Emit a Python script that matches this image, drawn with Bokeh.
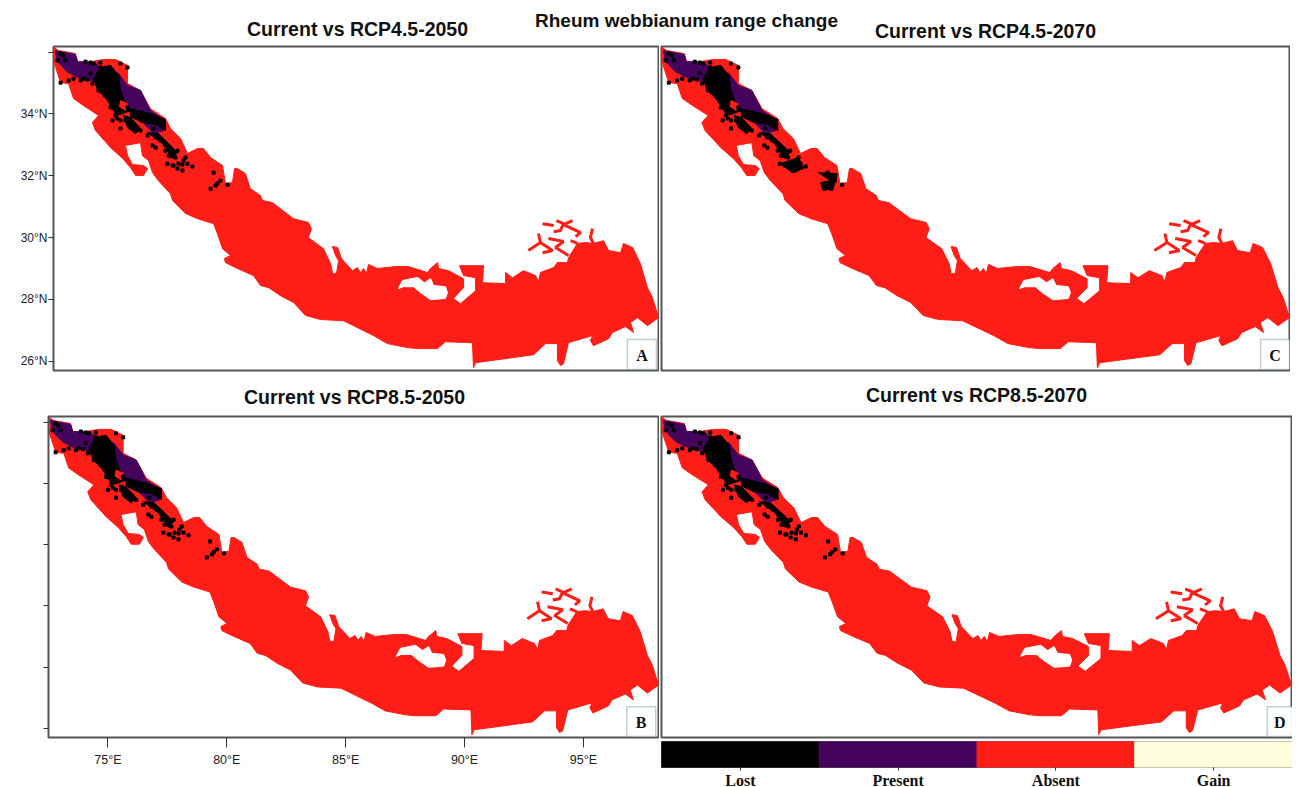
from bokeh.plotting import figure
from bokeh.layouts import column, row
from bokeh.models import Range1d, FactorRange, Label, BoxAnnotation, FixedTicker
from bokeh.embed import file_html
from bokeh.resources import INLINE

# ---------- data (lon, lat) ----------
main_title = "Rheum webbianum range change"
panel_titles = ["Current vs RCP4.5-2050", "Current vs RCP4.5-2070", "Current vs RCP8.5-2050", "Current vs RCP8.5-2070"]
lat_ticks = [34, 32, 30, 28, 26]
lat_labels = ["34°N", "32°N", "30°N", "28°N", "26°N"]
lat_unlabelled = [36]
lon_ticks = [75, 80, 85, 90, 95]
lon_labels = ["75°E", "80°E", "85°E", "90°E", "95°E"]
classes = ["Lost", "Present", "Absent", "Gain"]
class_colors = ["#000000", "#44045E", "#FE1D17", "#FFFDDB"]

region = [
    (72.54,36.15),(72.71,36.05),(73.43,35.95),(73.52,35.69),(74.07,35.69),(74.62,35.76),(75.13,35.76),
    (75.64,35.57),(75.64,34.98),(76.19,34.76),(76.61,34.17),(77.25,33.85),(77.46,33.53),(77.89,33.20),
    (78.18,32.72),(78.61,32.88),(78.86,32.88),(79.16,32.59),(79.67,32.33),(79.79,31.75),(80.09,31.78),
    (80.18,32.23),(80.30,32.23),(80.64,32.07),(80.85,31.58),(81.28,31.36),(81.36,31.20),(81.79,31.13),
    (82.68,30.61),(83.31,30.49),(83.44,30.29),(83.31,30.00),(83.95,29.64),(84.25,29.16),(84.34,28.83),
    (84.50,28.83),(84.59,29.25),(84.46,29.42),(84.33,29.71),(84.55,29.68),(84.71,29.32),(85.18,28.93),
    (85.39,29.03),(85.52,28.87),(85.65,29.00),(85.77,28.83),(85.86,29.13),(86.24,29.00),(87.00,29.06),
    (87.56,29.06),(88.36,28.87),(88.49,29.00),(88.79,29.19),(88.83,29.00),(89.25,28.93),(89.89,28.67),
    (89.89,28.38),(89.46,28.03),(89.76,27.86),(90.40,28.28),(90.40,28.70),(89.89,28.77),(89.72,29.09),
    (90.74,29.09),(90.69,28.54),(91.67,28.51),(91.67,28.87),(91.97,28.70),(92.43,28.93),(92.94,28.77),
    (93.07,28.58),(93.15,28.87),(93.71,29.03),(93.87,29.19),(94.30,29.19),(94.34,29.35),(94.72,29.81),
    (95.06,29.84),(95.40,29.81),(95.83,29.90),(96.04,29.58),(96.55,29.51),(96.67,29.81),(97.06,29.68),
    (97.39,29.16),(97.69,28.38),(97.90,28.06),(98.16,27.41),(97.69,27.15),(97.27,27.41),(96.97,27.25),
    (97.10,26.93),(96.76,27.12),(96.21,26.93),(96.04,26.73),(95.40,26.50),(95.27,26.67),(95.36,26.83),
    (94.34,26.60),(94.13,25.92),(94.00,25.86),(93.87,26.02),(93.87,26.57),(93.37,26.57),(92.86,26.21),
    (92.01,26.12),(90.40,25.95),(90.31,25.79),(90.27,26.60),(89.12,26.63),(88.79,26.41),(87.94,26.41),
    (87.51,26.44),(86.66,26.57),(86.07,26.83),(84.80,27.31),(83.82,27.35),(83.19,27.48),(82.68,27.90),
    (82.13,28.12),(81.62,28.38),(81.28,28.45),(80.98,28.77),(80.30,29.00),(79.79,29.19),(79.75,29.32),
    (80.01,29.42),(79.67,29.64),(79.45,30.13),(79.29,30.45),(78.61,30.61),(78.10,30.78),(77.55,31.20),
    (77.46,31.42),(76.95,31.84),(76.70,32.10),(76.53,32.49),(76.27,32.65),(76.19,33.07),(75.55,32.98),
    (75.64,32.65),(75.85,32.36),(76.32,32.33),(76.49,32.23),(76.32,32.01),(75.98,32.01),(75.77,32.26),
    (75.43,32.56),(74.92,32.91),(74.28,33.46),(74.15,33.72),(74.41,33.95),(73.77,34.27),(73.35,34.50),
    (73.14,34.98),(72.80,35.01),(72.54,35.63),
]
hole = [
    (87.13,28.35),(87.30,28.61),(87.94,28.71),(88.23,28.54),(88.49,28.67),(88.62,28.45),(89.12,28.41),
    (89.21,28.22),(89.12,28.03),(88.49,27.99),(88.06,28.22),(87.77,28.41),(87.34,28.41),
]
strips = [
    [(93.24,30.45),(93.71,30.39)],
    [(93.83,30.55),(94.13,30.45),(94.00,30.23),(93.71,30.19)],
    [(94.51,30.55),(94.13,30.42),(94.85,30.16),(94.64,30.03)],
    [(93.07,30.13),(93.15,29.84),(92.64,29.58)],
    [(93.15,29.84),(93.66,29.58),(93.24,29.51)],
    [(93.49,29.97),(94.13,29.87),(93.79,29.68),(94.34,29.42)],
    [(94.43,29.90),(94.72,29.81)],
    [(95.36,30.29),(95.27,30.00),(95.40,29.81)],
]
present = [
    (72.58,36.05),(73.43,35.92),(73.52,35.69),(74.28,35.66),(74.60,35.40),(75.26,35.31),(75.64,34.92),
    (76.19,34.76),(76.61,34.11),(77.25,33.78),(77.17,33.46),(76.74,33.36),(76.32,33.70),(75.77,34.00),
    (75.26,34.76),(74.79,35.31),(74.28,35.05),(73.65,35.14),(73.09,35.35),(72.67,35.69),
]
lost_areas = [
    [(74.20,35.14),(74.49,35.50),(74.92,35.57),(75.26,35.24),(75.34,34.76),(75.51,34.43),(75.77,34.11),
     (75.43,34.01),(75.17,33.95),(75.00,34.17),(74.70,34.53),(74.37,34.76)],
    [(75.77,34.17),(76.61,34.01),(77.25,33.82),(77.25,33.46),(76.83,33.66),(76.27,33.72),(75.77,33.91)],
    [(75.47,33.95),(75.77,33.88),(76.19,33.53),(75.98,33.36),(75.64,33.56)],
    [(76.49,33.40),(76.95,33.36),(77.38,33.04),(77.76,32.75),(77.55,32.56),(77.12,33.04)],
]
absent_pockets = [
    [(75.34,34.43),(75.64,34.33),(75.55,34.11),(75.30,34.24)],
]
lost_areas_2070 = [
    [(78.92,32.10),(79.69,32.07),(79.49,31.52),(79.08,31.58),(79.00,31.78),(79.41,31.84)],
    [(77.36,32.39),(78.10,32.59),(78.30,32.23),(77.85,32.10)],
]
lost_specks = [
    (72.80,35.95),(72.67,35.73),(72.92,35.89),(73.01,35.73),(72.80,35.01),(73.14,35.08),(73.35,35.14),
    (73.77,35.14),(74.07,35.31),(74.20,35.63),(74.07,35.66),(74.49,35.66),(73.86,35.69),(74.92,34.21),
    (75.13,33.95),(75.00,33.79),(75.34,33.53),(76.70,32.98),(76.83,32.91),(77.33,32.39),(77.59,32.33),
    (77.76,32.23),(77.97,32.36),(78.18,32.39),(78.39,32.30),(77.97,32.17),(78.10,32.59),(77.55,32.72),
    (77.38,32.65),(79.29,32.10),(79.16,31.58),(79.37,31.68),(79.58,31.84),(79.45,31.75),(79.88,31.71),
    (74.41,34.76),(74.70,34.59),(75.00,34.21),(75.55,33.79),(75.34,33.79),(75.85,33.56),(76.19,33.46),
    (76.49,33.30),(76.83,33.24),(77.04,33.14),(77.25,32.98),(77.25,32.81),(77.46,32.65),(77.67,32.59),
    (77.76,32.81),(74.15,34.98),(73.65,35.08),(73.94,35.11),(74.28,35.08),(75.21,33.85),(75.64,34.21),
    (75.89,33.95),(76.19,33.95),(76.49,33.85),(76.83,33.72),(77.04,33.62),(76.74,33.53),(77.80,32.39),
    (77.55,32.33),(78.01,32.49),(75.34,35.63),(75.64,35.50),(74.49,35.50),
]
box_spans = {"A": (96.84, 98.07), "C": (96.98, 98.16), "B": (96.82, 98.04), "D": (97.17, 98.2)}

LON0, LON1 = 72.5, 98.2
LAT0, LAT1 = 25.7, 36.18
DARK = "#555555"
RED, PURPLE, BLACK = class_colors[2], class_colors[1], class_colors[0]


def split(pairs):
    return [a for a, _ in pairs], [b for _, b in pairs]


def panel(letter, frame_w, frame_h, left, bottom, right, xaxis=False, yaxis=None, extra=()):
    p = figure(frame_width=frame_w, frame_height=frame_h, x_range=Range1d(LON0, LON1), y_range=Range1d(LAT0, LAT1),
               output_backend="svg", toolbar_location=None,
               x_axis_location="below" if xaxis else None, y_axis_location="left" if yaxis else None,
               min_border_left=left, min_border_right=right, min_border_top=4, min_border_bottom=bottom,
               outline_line_color=DARK, outline_line_width=2, background_fill_color="white", border_fill_color="white")
    p.grid.visible = False
    x, y = split(region)
    p.patch(x, y, color=RED)
    x, y = split(hole)
    p.patch(x, y, color="white")
    p.multi_line([split(s)[0] for s in strips], [split(s)[1] for s in strips], line_color=RED, line_width=3)
    x, y = split(present)
    p.patch(x, y, color=PURPLE)
    areas = list(lost_areas) + list(extra)
    p.patches([split(s)[0] for s in areas], [split(s)[1] for s in areas], color=BLACK)
    p.patches([split(s)[0] for s in absent_pockets], [split(s)[1] for s in absent_pockets], color=RED)
    x, y = split(lost_specks)
    p.scatter(x, y, marker="square", size=3, color=BLACK)
    lo, hi = box_spans[letter]
    p.add_layout(BoxAnnotation(left=lo, right=hi, bottom=LAT0 + 0.03, top=LAT0 + 1.0, fill_color="white", fill_alpha=1,
                               line_color="#2E6B4F", line_width=1.5))
    p.add_layout(Label(x=(lo + hi) / 2, y=LAT0 + 0.5, text=letter, text_align="center", text_baseline="middle",
                       text_font="Liberation Serif", text_font_style="bold", text_font_size="16px", text_color="#111111"))
    if yaxis:
        a = p.yaxis[0]
        if yaxis == "labelled":
            a.ticker = FixedTicker(ticks=lat_ticks, minor_ticks=lat_unlabelled)
            a.major_label_overrides = dict(zip(lat_ticks, lat_labels))
        else:
            a.ticker = FixedTicker(ticks=[], minor_ticks=lat_ticks + lat_unlabelled)
        for line, out in (("major", 5), ("minor", 5)):
            setattr(a, line + "_tick_line_color", "#333333")
            setattr(a, line + "_tick_out", out)
            setattr(a, line + "_tick_in", 0)
        a.axis_line_color = None
        a.major_label_text_font = "Liberation Sans"
        a.major_label_text_font_size = "12px"
        a.major_label_text_color = "#222222"
        a.major_label_standoff = 1
        a.major_label_orientation = "horizontal"
    if xaxis:
        a = p.xaxis[0]
        a.ticker = FixedTicker(ticks=lon_ticks)
        a.major_label_overrides = dict(zip(lon_ticks, lon_labels))
        a.major_tick_line_color = "#333333"
        a.major_tick_out = 10
        a.major_tick_in = 0
        a.minor_tick_line_color = None
        a.axis_line_color = None
        a.major_label_text_font = "Liberation Sans"
        a.major_label_text_font_size = "12.5px"
        a.major_label_text_color = "#222222"
        a.major_label_standoff = 5
    return p


def header(h, y0, items):
    p = figure(width=1292, height=h, x_range=Range1d(0, 1292), y_range=Range1d(y0 + h, y0),
               x_axis_location=None, y_axis_location=None, output_backend="svg", toolbar_location=None,
               min_border=0, outline_line_color=None, border_fill_color="white")
    p.grid.visible = False
    for text, cx, cy, size in items:
        p.add_layout(Label(x=cx, y=cy, text=text, text_align="center", text_baseline="middle",
                           text_font="Liberation Sans", text_font_style="bold", text_font_size=size, text_color="#111111"))
    return p


head1 = header(42, 0, [(panel_titles[0], 357, 28, "19.5px"), (main_title, 686, 20, "19px"), (panel_titles[1], 985, 30, "19.5px")])
head2 = header(40, 372, [(panel_titles[2], 354, 396, "19.5px"), (panel_titles[3], 976, 394, "19.5px")])

A = panel("A", 606, 324, 53, 2, 0, yaxis="labelled")
C = panel("C", 629, 324, 2, 2, 0, extra=lost_areas_2070)
B = panel("B", 611, 321, 48, 50, 0, xaxis=True, yaxis="ticks")
D = panel("D", 631, 321, 2, 2, 0)

legend = figure(frame_width=631, frame_height=26, x_range=FactorRange(factors=classes), y_range=Range1d(0, 1),
                y_axis_location=None, output_backend="svg", toolbar_location=None,
                min_border_left=2, min_border_right=0, min_border_top=2, min_border_bottom=20,
                outline_line_color="#666666", outline_line_width=1, border_fill_color="white")
legend.grid.visible = False
legend.vbar(x=classes, top=[1, 1, 1, 1], bottom=0, width=1, color=class_colors)
ax = legend.xaxis[0]
ax.major_tick_out = 3
ax.major_tick_in = 0
ax.major_tick_line_color = "#333333"
ax.axis_line_color = None
ax.major_label_text_font = "Liberation Serif"
ax.major_label_text_font_style = "bold"
ax.major_label_text_font_size = "16px"
ax.major_label_text_color = "#111111"
ax.major_label_standoff = 1

page = column(head1, row(A, C, spacing=0), head2, row(B, column(D, legend, spacing=0), spacing=0), spacing=0)
open("out.html", "w").write(file_html(page, INLINE))
